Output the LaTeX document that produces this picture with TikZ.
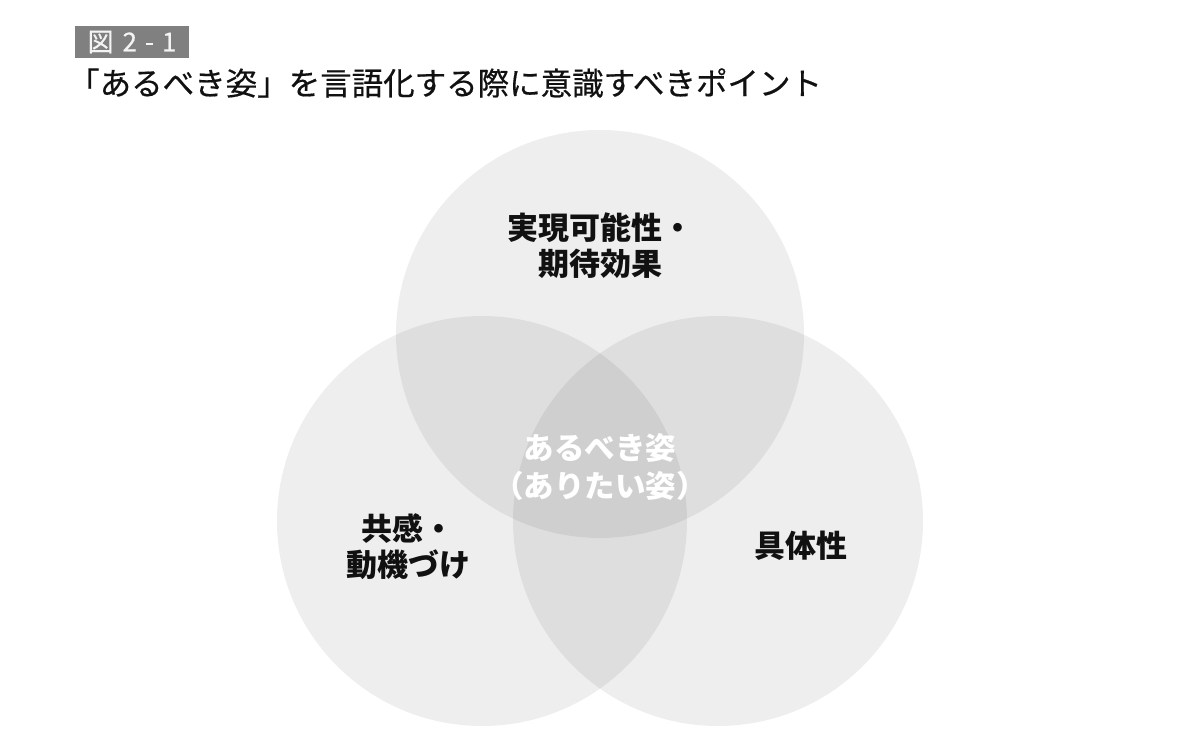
\documentclass[tikz,border=0pt]{standalone}
\usepackage{fontspec}
\newfontfamily\jp{Noto Sans CJK JP}
\newfontfamily\jpmed[FakeBold=0.5]{Noto Sans CJK JP}
\definecolor{tagbg}{HTML}{808080}
\definecolor{tagtext}{HTML}{F4F4F4}
\definecolor{ink}{HTML}{111111}
\tikzset{
  x=1pt, y=-1pt,
  venn/.style={fill=black, fill opacity=0.067, draw=none},
  lbl/.style={text=ink, align=center, inner sep=0pt,
    font={\jp\bfseries\fontsize{31}{36}\selectfont}},
  core/.style={text=white, align=center, inner sep=0pt,
    font={\jp\bfseries\fontsize{30.5}{38}\selectfont}},
  tag/.style={fill=tagbg, text=tagtext, inner sep=0pt, minimum width=114pt,
    minimum height=32pt, font={\jpmed\fontsize{26}{26}\selectfont}},
  ttl/.style={text=ink, inner sep=0pt, anchor=west,
    font={\jpmed\fontsize{31.5}{31.5}\selectfont}}
}
\begin{document}
\begin{tikzpicture}
\useasboundingbox (0,0) rectangle (1200,741);
% circles
\path[venn] (600,334) circle[radius=204];
\path[venn] (482,521) circle[radius=205];
\path[venn] (718,521) circle[radius=205];
% header
\node[tag] (tagbox) at (132,42) {図\hspace{9pt}2\hspace{8pt}-\hspace{8pt}1};
\node[ttl] (title) at (68,83) {「あるべき姿」を言語化する際に意識すべきポイント};
% labels
\node[lbl] (top) at (600,246) {実現可能性・\\期待効果};
\node[lbl] (left) at (408,547) {共感・\\動機づけ};
\node[lbl] (right) at (801,546) {具体性};
\node[core] (center) at (600,467) {あるべき姿\\（ありたい姿）};
\end{tikzpicture}
\end{document}
